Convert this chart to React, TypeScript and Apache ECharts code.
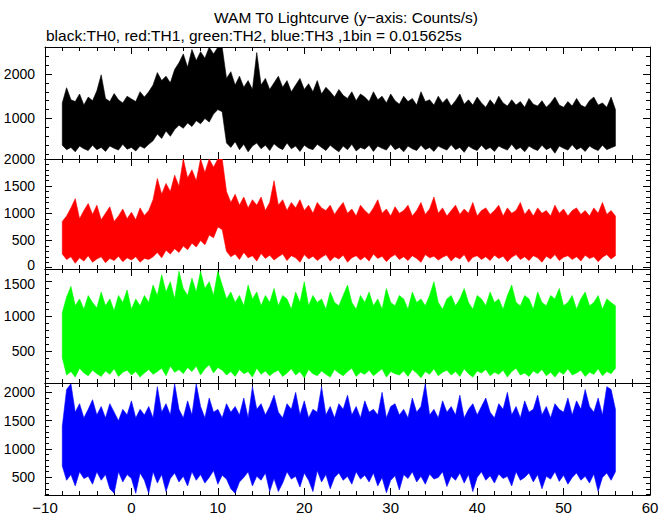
import React, { useEffect, useRef } from 'react';
import * as echarts from 'echarts';

// Time bins (seconds), one every 0.5 s from -8 to 56
const T_START = -8;
const T_STEP = 0.5;
const N = 129;
const TIME: number[] = Array.from({ length: N }, (_, i) => T_START + i * T_STEP);

// TH0 (black) envelope, counts/s
const TH0_HI = [
  1350, 1690, 1420, 1380, 1550, 1300, 1480, 1400, 1620, 1980,
  1450, 1380, 1560, 1420, 1350, 1500, 1440, 1380, 1600, 1480,
  1600, 1750, 2030, 1850, 1950, 1800, 2100, 2250, 2450, 2150,
  2550, 2300, 2500, 2350, 2600, 2450, 2600, 2600, 1900, 2050,
  1750, 1950, 1700, 1850, 1650, 2480, 1750, 1900, 1650, 1800,
  1950, 1700, 1850, 1600, 1750, 1900, 1650, 1780, 1600, 1850,
  1550, 1700, 1600, 1480, 1650, 1520, 1450, 1600, 1400, 1550,
  1480, 1380, 1600, 1420, 1500, 1350, 1550, 1400, 1320, 1500,
  1380, 1450, 1300, 1600, 1380, 1420, 1300, 1500, 1350, 1450,
  1280, 1400, 1550, 1320, 1420, 1300, 1480, 1350, 1250, 1420,
  1300, 1500, 1350, 1280, 1420, 1300, 1380, 1250, 1450, 1320,
  1280, 1400, 1250, 1350, 1480, 1300, 1250, 1380, 1280, 1450,
  1300, 1250, 1400, 1480, 1300, 1350, 1250, 1480, 1200,
];
const TH0_LO = [
  400, 300, 350, 250, 380, 320, 280, 400, 300, 350,
  260, 380, 330, 290, 420, 310, 350, 270, 380, 330,
  420, 500, 650, 550, 720, 600, 750, 850, 780, 900,
  820, 950, 880, 1000, 920, 1100, 1200, 1150, 450, 350,
  480, 300, 420, 250, 380, 450, 320, 400, 280, 430,
  350, 300, 450, 320, 380, 260, 400, 330, 300, 420,
  350, 280, 400, 320, 250, 380, 300, 420, 270, 350,
  310, 400, 260, 380, 330, 290, 420, 300, 350, 250,
  380, 320, 280, 400, 300, 350, 260, 380, 330, 290,
  410, 300, 350, 240, 380, 320, 280, 400, 300, 350,
  260, 380, 330, 290, 420, 300, 350, 250, 380, 320,
  280, 400, 300, 350, 220, 380, 330, 290, 410, 300,
  350, 260, 380, 320, 280, 400, 300, 340, 380,
];

// TH1 (red) envelope
const TH1_HI = [
  850, 950, 1100, 1270, 900, 1050, 1180, 980, 1150, 880,
  1000, 1120, 850, 950, 1080, 900, 1020, 880, 1100, 960,
  1050, 1250, 1640, 1350, 1550, 1400, 1700, 1500, 2000, 1650,
  1800, 1600, 2000, 1750, 2000, 1850, 2000, 2000, 1400, 1200,
  1350, 1150, 1300, 1100, 1250, 1150, 1300, 1050, 1200, 1600,
  1150, 1250, 1050, 1200, 1100, 1250, 1050, 1150, 1000, 1200,
  1100, 1050, 1150, 980, 1100, 1200, 1000, 1080, 950, 1150,
  1050, 980, 1100, 1250, 1000, 1080, 950, 1120, 1000, 1050,
  1150, 950, 1050, 1200, 980, 1080, 1300, 1000, 1100, 950,
  1050, 1150, 980, 1080, 1000, 1200, 950, 1050, 1100, 980,
  1050, 1150, 950, 1100, 1000, 1050, 1200, 980, 1080, 950,
  1100, 1000, 1050, 950, 1150, 1000, 1080, 950, 1050, 1100,
  980, 1050, 950, 1100, 1000, 1200, 980, 1050, 950,
];
const TH1_LO = [
  250, 150, 200, 80, 180, 120, 220, 100, 160, 200,
  90, 170, 130, 210, 110, 180, 140, 200, 100, 170,
  150, 200, 280, 180, 320, 250, 350, 280, 400, 330,
  450, 380, 500, 420, 600, 550, 750, 700, 300, 200,
  250, 150, 280, 180, 220, 120, 260, 170, 230, 140,
  200, 250, 130, 220, 180, 100, 240, 160, 210, 130,
  190, 240, 120, 200, 160, 230, 100, 180, 220, 140,
  200, 120, 250, 170, 210, 110, 190, 240, 150, 200,
  130, 220, 170, 100, 240, 180, 210, 140, 190, 230,
  120, 200, 160, 240, 100, 190, 220, 150, 200, 130,
  230, 170, 210, 110, 190, 240, 150, 200, 130, 220,
  180, 100, 210, 160, 240, 130, 190, 220, 150, 200,
  120, 230, 170, 200, 110, 190, 240, 160, 220,
];

// TH2 (green) envelope
const TH2_HI = [
  1050, 1280, 1430, 1150, 1250, 1100, 1300, 1200, 1120, 1350,
  1150, 1250, 1080, 1300, 1200, 1380, 1100, 1250, 1150, 1300,
  1200, 1450, 1300, 1600, 1350, 1500, 1250, 1650, 1400, 1300,
  1550, 1350, 1650, 1400, 1500, 1300, 1650, 1450, 1250, 1350,
  1200, 1300, 1150, 1450, 1250, 1350, 1150, 1300, 1200, 1400,
  1150, 1300, 1250, 1100, 1350, 1200, 1500, 1150, 1300, 1200,
  1250, 1100, 1350, 1200, 1150, 1300, 1450, 1200, 1100, 1300,
  1200, 1350, 1150, 1250, 1100, 1400, 1200, 1150, 1300, 1250,
  1100, 1350, 1200, 1250, 1150, 1300, 1500, 1200, 1100, 1250,
  1300, 1150, 1250, 1400, 1200, 1100, 1300, 1250, 1150, 1350,
  1200, 1250, 1100, 1300, 1450, 1200, 1150, 1300, 1250, 1100,
  1350, 1200, 1150, 1300, 1250, 1400, 1150, 1200, 1300, 1100,
  1250, 1350, 1150, 1200, 1300, 1100, 1250, 1200, 1150,
];
const TH2_LO = [
  400, 150, 200, 120, 250, 180, 140, 220, 170, 130,
  210, 160, 240, 130, 190, 220, 150, 200, 120, 180,
  230, 160, 200, 250, 140, 280, 190, 230, 170, 260,
  200, 280, 150, 240, 300, 180, 260, 220, 150, 200,
  130, 230, 170, 200, 120, 250, 160, 210, 140, 190,
  220, 130, 180, 240, 150, 200, 110, 230, 170, 140,
  210, 160, 120, 230, 180, 140, 200, 250, 130, 190,
  160, 220, 140, 190, 240, 120, 200, 170, 150, 210,
  130, 230, 180, 110, 200, 160, 240, 140, 190, 220,
  150, 200, 130, 240, 170, 120, 210, 180, 230, 140,
  190, 160, 220, 120, 200, 250, 150, 180, 130, 210,
  170, 230, 140, 190, 120, 200, 160, 240, 150, 180,
  220, 130, 190, 160, 240, 140, 200, 170, 250,
];

// TH3 (blue) envelope
const TH3_HI = [
  1400, 2050, 2150, 1650, 1800, 1550, 1700, 1870, 1600, 1750,
  1550, 1800, 1650, 1500, 1700, 1600, 1850, 1550, 1700, 1600,
  1750, 1550, 2100, 1650, 1800, 1600, 2150, 1700, 1550, 1850,
  1600, 2150, 1750, 1550, 1900, 1650, 1700, 1550, 1800, 1650,
  1750, 1600, 1900, 1550, 2100, 1700, 1800, 1600, 1750, 1950,
  1650, 1550, 1800, 1700, 2000, 1600, 1850, 1550, 1700, 1650,
  2100, 1600, 1750, 1550, 1800, 1700, 1950, 1600, 1750, 1550,
  1850, 1650, 1700, 1600, 2000, 1550, 1750, 1800, 1600, 1700,
  1550, 1900, 1650, 1750, 2150, 1600, 1700, 1550, 1850, 1650,
  1750, 1600, 1950, 1550, 1700, 1800, 1600, 1750, 1900, 1650,
  1550, 1800, 1700, 2000, 1600, 1750, 1550, 1850, 1650, 1700,
  1950, 1600, 1750, 1550, 1800, 1700, 1650, 1900, 1600, 1850,
  1700, 2050, 1750, 1650, 1900, 1600, 2100, 2050, 1700,
];
const TH3_LO = [
  700, 450, 550, 350, 600, 480, 520, 380, 600, 450,
  550, 300, 220, 600, 420, 550, 480, 220, 580, 450,
  220, 600, 400, 550, 250, 480, 580, 420, 520, 350,
  600, 450, 550, 400, 500, 620, 380, 540, 470, 300,
  220, 420, 500, 600, 350, 520, 450, 580, 250, 480,
  250, 400, 600, 470, 520, 330, 580, 450, 250, 620,
  420, 550, 300, 500, 580, 450, 520, 380, 600, 470,
  540, 420, 580, 350, 500, 230, 450, 530, 280, 550,
  480, 600, 420, 520, 380, 560, 470, 500, 600, 340,
  520, 450, 580, 400, 550, 250, 500, 600, 450, 530,
  400, 560, 480, 520, 350, 600, 450, 500, 580, 420,
  550, 300, 520, 470, 600, 430, 540, 380, 500, 580,
  450, 520, 400, 560, 250, 500, 580, 450, 600,
];

// Axis ranges and tick labels per panel
const Y_MIN = [90, -25, 35, 190];
const Y_MAX = [2605, 2000, 1683, 2165];
const Y_MAJOR = [
  [1000, 2000],
  [0, 500, 1000, 1500, 2000],
  [500, 1000, 1500],
  [500, 1000, 1500, 2000],
];
const Y_MINOR_STEP = [200, 100, 100, 100];
const X_MIN = -10;
const X_MAX = 60;
const X_INTERVAL = 10;

const COLORS = ['#000000', '#ff0000', '#00ff00', '#0000ff'];
const HI = [TH0_HI, TH1_HI, TH2_HI, TH3_HI];
const LO = [TH0_LO, TH1_LO, TH2_LO, TH3_LO];

const TITLE = 'WAM T0 Lightcurve (y\u2212axis: Counts/s)';
const SUBTITLE = 'black:TH0, red:TH1, green:TH2, blue:TH3 ,1bin = 0.015625s';

const GRID_TOP = [47, 159, 269, 383];
const GRID_H = [112, 110, 114, 113];
const FONT = '"Liberation Sans", Arial, Helvetica, sans-serif';

function minorTicks(k: number): number[] {
  const out: number[] = [];
  const s = Y_MINOR_STEP[k];
  for (let v = Math.ceil(Y_MIN[k] / s) * s; v <= Y_MAX[k]; v += s) out.push(v);
  return out;
}

// Labels right next to a panel boundary: anchored by their bottom / top edge
// with a short line height, so they shift a few pixels apart and do not collide.
const NUDGE: Record<string, { verticalAlign: string; lineHeight: number }> = {
  '1:0': { verticalAlign: 'bottom', lineHeight: 6 },
  '2:1500': { verticalAlign: 'top', lineHeight: 4 },
};

function buildOption() {
  const grid: any[] = [];
  const xAxis: any[] = [];
  const yAxis: any[] = [];
  const series: any[] = [];
  const axisLine = { show: true, onZero: false, lineStyle: { color: '#000', width: 1 } };
  const tickStyle = { color: '#000', width: 1 };
  const labelBase = { show: true, color: '#000', fontSize: 14, fontFamily: FONT, margin: 10, formatter: (v: number) => String(v) };

  for (let k = 0; k < 4; k++) {
    grid.push({ left: 45, right: 22, top: GRID_TOP[k], height: GRID_H[k], containLabel: false });
    ['bottom', 'top'].forEach((pos) => {
      const labeled = k === 3 && pos === 'bottom';
      xAxis.push({
        type: 'value',
        gridIndex: k,
        position: pos,
        min: X_MIN,
        max: X_MAX,
        interval: X_INTERVAL,
        axisLine,
        axisTick: { show: true, inside: true, length: 7, lineStyle: tickStyle },
        minorTick: { show: true, splitNumber: 5, length: 4, lineStyle: tickStyle },
        splitLine: { show: false },
        minorSplitLine: { show: false },
        axisLabel: labeled
          ? { show: true, color: '#000', fontSize: 15, fontFamily: FONT, margin: 5, formatter: (v: number) => (v < 0 ? '\u2212' + Math.abs(v) : String(v)) }
          : { show: false },
      });
    });

    const plain = Y_MAJOR[k].filter((v) => !NUDGE[k + ':' + v]);
    const nudged = Y_MAJOR[k].filter((v) => NUDGE[k + ':' + v]);
    ['left', 'right'].forEach((pos) => {
      yAxis.push({
        type: 'value',
        gridIndex: k,
        position: pos,
        min: Y_MIN[k],
        max: Y_MAX[k],
        axisLine,
        axisTick: { show: true, inside: true, length: 7, customValues: Y_MAJOR[k], lineStyle: tickStyle },
        splitLine: { show: false },
        axisLabel: pos === 'left' ? { ...labelBase, customValues: plain } : { show: false },
      });
      yAxis.push({
        type: 'value',
        gridIndex: k,
        position: pos,
        min: Y_MIN[k],
        max: Y_MAX[k],
        axisLine: { show: false, onZero: false },
        axisTick: { show: true, inside: true, length: 4, customValues: minorTicks(k), lineStyle: tickStyle },
        splitLine: { show: false },
        axisLabel: pos === 'left' && nudged.length
          ? { ...labelBase, customValues: nudged, ...NUDGE[k + ':' + nudged[0]] }
          : { show: false },
      });
    });

    const data = TIME.map((t, i) => [t, LO[k][i], HI[k][i]]);
    const color = COLORS[k];
    series.push({
      type: 'custom',
      xAxisIndex: k * 2,
      yAxisIndex: k * 4,
      clip: true,
      silent: true,
      data,
      encode: { x: 0, y: [1, 2] },
      renderItem: (params: any, api: any) => {
        if (params.dataIndex !== 0) return null;
        const top = data.map((d) => api.coord([d[0], d[2]]));
        const bot = data.map((d) => api.coord([d[0], d[1]])).reverse();
        return {
          type: 'polygon',
          shape: { points: top.concat(bot) },
          style: { fill: color, stroke: color, lineWidth: 0.6 },
        };
      },
    });
  }

  return {
    animation: false,
    backgroundColor: '#ffffff',
    grid,
    xAxis,
    yAxis,
    series,
    graphic: [
      { type: 'text', x: 346, y: 17, style: { text: TITLE, fontSize: 15.5, fontFamily: FONT, fill: '#000', textAlign: 'center', textVerticalAlign: 'middle' } },
      { type: 'text', x: 46, y: 35, style: { text: SUBTITLE, fontSize: 15.5, fontFamily: FONT, fill: '#000', textAlign: 'left', textVerticalAlign: 'middle' } },
    ],
  };
}

export default function App() {
  const ref = useRef<HTMLDivElement>(null);
  useEffect(() => {
    const chart = echarts.init(ref.current!, null, { renderer: 'svg' });
    chart.setOption(buildOption() as any);
    return () => chart.dispose();
  }, []);
  return (
    <div
      ref={ref}
      style={{ position: 'fixed', left: 0, top: 0, width: 672, height: 515, background: '#fff' }}
    />
  );
}
